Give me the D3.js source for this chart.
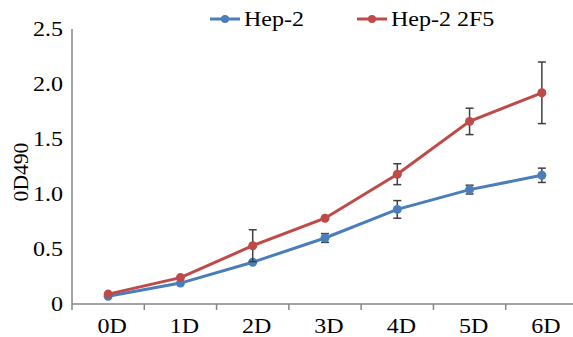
<!DOCTYPE html>
<html>
<head>
<meta charset="utf-8">
<script src="https://cdn.jsdelivr.net/npm/d3@7"></script>
<style>
  body { margin: 0; background: #fff; }
  svg text { font-family: "Liberation Serif", "Times New Roman", serif; fill: #000; font-size: 20px; }
</style>
</head>
<body>
<svg class="chart" width="573" height="337"></svg>
<script>
const days = ['0D', '1D', '2D', '3D', '4D', '5D', '6D'];
const hep2 = [0.07, 0.19, 0.38, 0.60, 0.86, 1.04, 1.17];
const hep2Err = [0, 0, 0, 0.04, 0.08, 0.04, 0.065];
const hep2F5 = [0.09, 0.24, 0.53, 0.78, 1.18, 1.66, 1.92];
const hep2F5Err = [0, 0, 0.145, 0.01, 0.095, 0.12, 0.28];
const yTicks = [0, 0.5, 1.0, 1.5, 2.0, 2.5];
const seriesNames = ['Hep-2', 'Hep-2 2F5'];
const colors = ['#4a7ebb', '#be4b48'];

const width = 573, height = 337;
const plot = { left: 72, right: 578, top: 29, bottom: 304 };
const stretch = 'scale(1.2,1)'; // the original text is drawn a little wide

const svg = d3.select('.chart');

const xScale = d3.scaleBand().domain(days).range([plot.left, plot.right]);
const yScale = d3.scaleLinear().domain([0, 2.5]).range([plot.bottom, plot.top]);

// y axis
svg.append('line')
    .attr('x1', plot.left).attr('x2', plot.left)
    .attr('y1', plot.top).attr('y2', plot.bottom)
    .attr('stroke', '#868686').attr('stroke-width', 1.5);
svg.selectAll('.ytick')
    .data(yTicks)
    .enter().append('text')
    .attr('transform', d => `translate(63,${yScale(d)}) ${stretch}`)
    .attr('text-anchor', 'end')
    .attr('dy', '0.34em')
    .text(d => d === 0 ? '0' : d3.format('.1f')(d));

// x axis
const xAxis = svg.append('g')
    .attr('transform', `translate(0,${plot.bottom})`);
xAxis.append('line')
    .attr('x1', plot.left).attr('x2', width)
    .attr('stroke', '#868686').attr('stroke-width', 1.5);
xAxis.selectAll('.tk')
    .data(days)
    .enter().append('line')
    .attr('x1', d => xScale(d)).attr('x2', d => xScale(d))
    .attr('y1', 0).attr('y2', 6)
    .attr('stroke', '#868686').attr('stroke-width', 1.5);
xAxis.selectAll('.lbl')
    .data(days)
    .enter().append('text')
    .attr('transform', d => `translate(${xScale(d) + xScale.bandwidth() / 2 + 4},29) ${stretch}`)
    .attr('text-anchor', 'middle')
    .text(d => d);

// y label
svg.append('text')
    .attr('transform', `translate(28,172) rotate(-90) scale(1.08,1)`)
    .attr('text-anchor', 'middle')
    .text('0D490');

const series = [
    { name: seriesNames[0], values: hep2, err: hep2Err, color: colors[0] },
    { name: seriesNames[1], values: hep2F5, err: hep2F5Err, color: colors[1] },
];

const cx = d => xScale(d) + xScale.bandwidth() / 2;

const line = d3.line()
    .x(d => cx(d.day))
    .y(d => yScale(d.v));

series.forEach(s => {
    const pts = days.map((day, i) => ({ day, v: s.values[i], e: s.err[i] }));

    // error bars
    const eb = svg.append('g').attr('stroke', '#404040').attr('stroke-width', 1.5);
    pts.filter(p => p.e > 0).forEach(p => {
        const x = cx(p.day);
        eb.append('line').attr('x1', x).attr('x2', x)
            .attr('y1', yScale(p.v - p.e)).attr('y2', yScale(p.v + p.e));
        [p.v - p.e, p.v + p.e].forEach(v => {
            eb.append('line').attr('x1', x - 4).attr('x2', x + 4)
                .attr('y1', yScale(v)).attr('y2', yScale(v));
        });
    });

    svg.append('path')
        .datum(pts)
        .attr('d', line)
        .style('fill', 'none')
        .style('stroke', s.color)
        .style('stroke-width', 3);

    svg.selectAll(null)
        .data(pts)
        .enter().append('circle')
        .attr('r', 4.5)
        .attr('cx', d => cx(d.day))
        .attr('cy', d => yScale(d.v))
        .style('fill', s.color);
});

// legend
const legendX = [210, 357];
series.forEach((s, i) => {
    const g = svg.append('g').attr('transform', `translate(${legendX[i]},19)`);
    g.append('line').attr('x1', 0).attr('x2', 30)
        .attr('stroke', s.color).attr('stroke-width', 3);
    g.append('circle').attr('cx', 15).attr('r', 4).style('fill', s.color);
    g.append('text').attr('transform', `translate(34,7) ${stretch}`)
        .text(s.name);
});
</script>
</body>
</html>
